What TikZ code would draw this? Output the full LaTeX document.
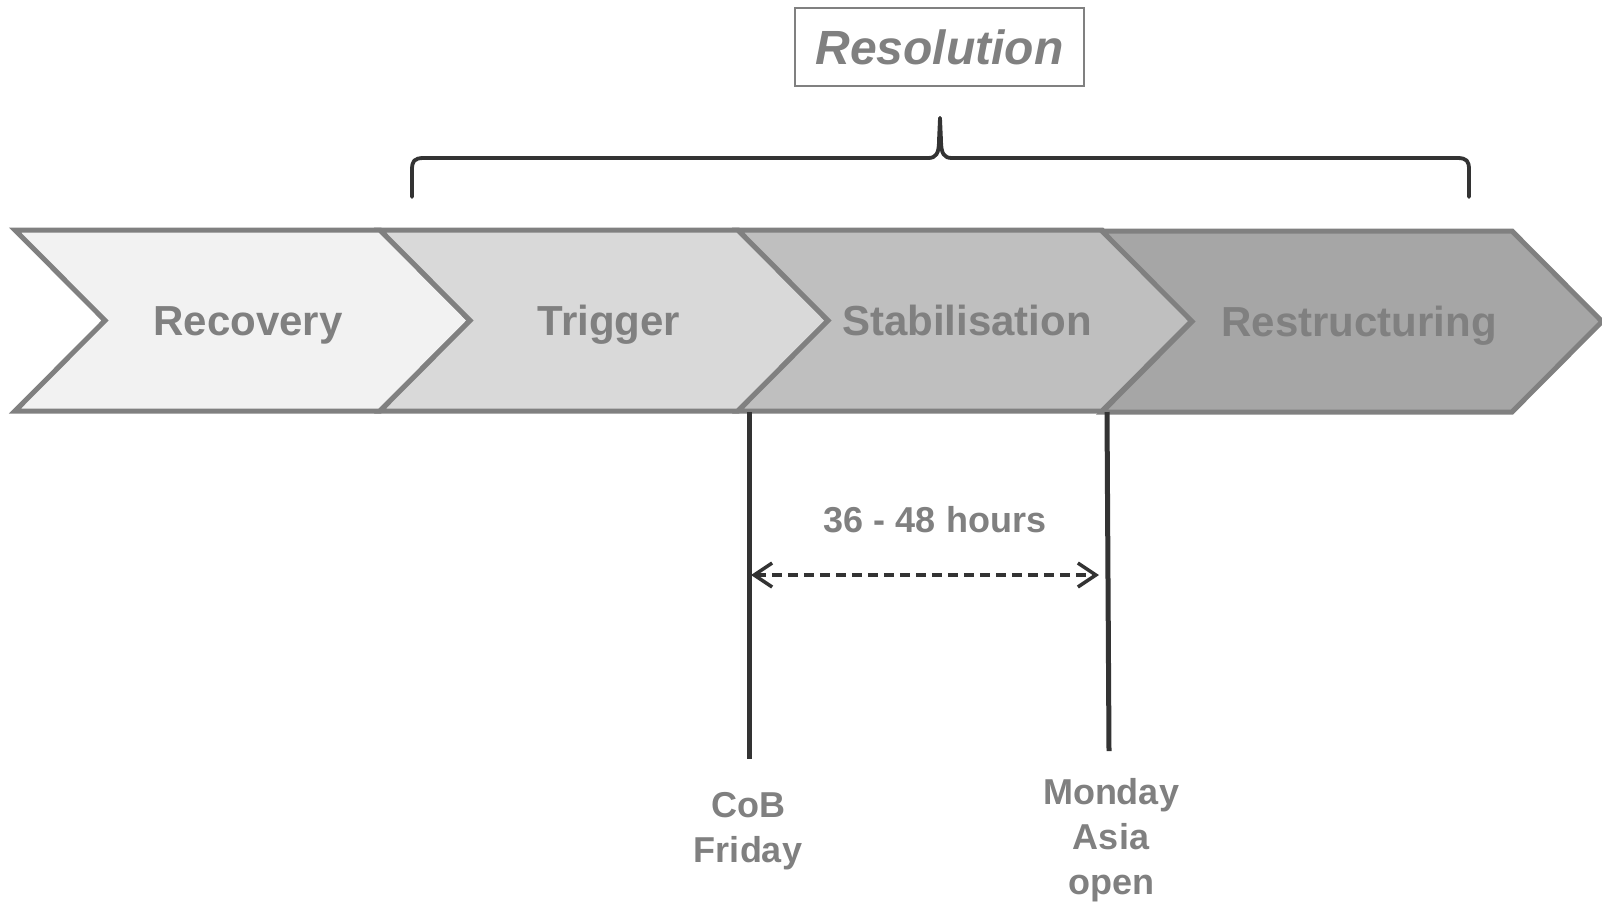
\documentclass[tikz,border=0pt]{standalone}
\usepackage{fontspec}
\setmainfont{Liberation Sans}
\usetikzlibrary{arrows.meta}
\definecolor{edgegray}{HTML}{808080}
\definecolor{txtgray}{HTML}{808080}
\definecolor{ink}{HTML}{333333}
\definecolor{phaseA}{HTML}{F2F2F2}
\definecolor{phaseB}{HTML}{D9D9D9}
\definecolor{phaseC}{HTML}{BFBFBF}
\definecolor{phaseD}{HTML}{A6A6A6}
\begin{document}
\begin{tikzpicture}[x=1pt,y=-1pt,
  chev/.style={draw=edgegray,line width=5pt,line join=miter},
  phase/.style={anchor=base,text=txtgray,font=\fontsize{42}{48}\selectfont\bfseries},
  tag/.style={text=txtgray,align=center,font=\fontsize{36}{45}\selectfont\bfseries},
  marker/.style={draw=ink,line width=5pt},
  span/.style={draw=ink,line width=3.5pt,dash pattern=on 10pt off 6pt,
    {Straight Barb[length=18pt,width=24pt,line width=3.5pt]}-{Straight Barb[length=18pt,width=24pt,line width=3.5pt]}},
  bracket/.style={draw=ink,line width=3.8pt,line cap=round,line join=round}]
\useasboundingbox (0,0) rectangle (1602,903);

% phase chevrons, drawn left to right so each overlaps the previous one
\draw[chev,fill=phaseA] (15,230) -- (380,230) -- (470,320.5) -- (380,411) -- (15,411) -- (105,320.5) -- cycle;
\draw[chev,fill=phaseB] (380,230) -- (738,230) -- (828,320.5) -- (738,411) -- (380,411) -- (470,320.5) -- cycle;
\draw[chev,fill=phaseC] (738,230) -- (1102,230) -- (1192,320.5) -- (1102,411) -- (738,411) -- (828,320.5) -- cycle;
\draw[chev,fill=phaseD] (1102,231) -- (1512,231) -- (1602,321.5) -- (1512,412) -- (1102,412) -- (1192,321.5) -- cycle;

\node[phase] (recovery) at (248,335) {Recovery};
\node[phase] (trigger) at (609,335) {Trigger};
\node[phase] (stab) at (967,335) {Stabilisation};
\node[phase] (restr) at (1359,336) {Restructuring};

% resolution heading and its brace
\node[draw=edgegray,line width=2pt,fill=white,minimum width=289pt,minimum height=78pt,
  text=txtgray,font=\fontsize{48}{54}\selectfont\bfseries\itshape] (resolution) at (939.5,47) {Resolution};

\coordinate (bl) at (412,197);
\coordinate (br) at (1469,197);
\coordinate (btip) at (940,118);
\draw[bracket] (bl) -- (412,170) .. controls (412,161) and (414,158) .. (424,158)
  -- (928,158) .. controls (936,158) and (939,154) .. (939,140) -- (btip);
\draw[bracket] (br) -- (1469,170) .. controls (1469,161) and (1467,158) .. (1457,158)
  -- (952,158) .. controls (944,158) and (941,154) .. (941,140) -- (btip);

% time markers
\coordinate (fritop) at (749,412);
\coordinate (fribot) at (749,759);
\coordinate (montop) at (1107,412);
\coordinate (monbot) at (1109,751);
\draw[marker] (fritop) -- (fribot);
\draw[marker] (montop) -- (monbot);

\coordinate (spanL) at (751,575);
\coordinate (spanR) at (1099,575);
\draw[span] (spanL) -- (spanR);
\node[tag] (hours) at (935,520) {36 - 48 hours};

\node[tag] (friday) at (748,831) {CoB\\Friday};
\node[tag] (monday) at (1111,840) {Monday\\Asia\\open};
\end{tikzpicture}
\end{document}
